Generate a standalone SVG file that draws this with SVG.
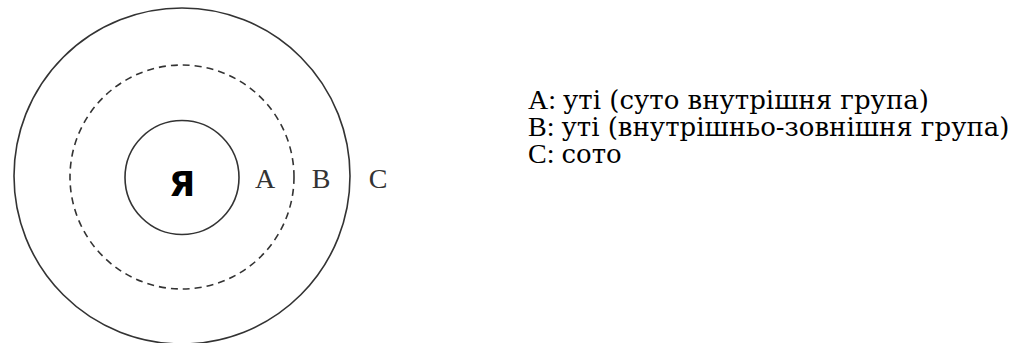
<svg xmlns="http://www.w3.org/2000/svg" width="1027" height="343" viewBox="0 0 1027 343">
<style>
.ring{fill:none;stroke:#333;stroke-width:1.6}
.dash{stroke-dasharray:7 5}
.lbl{font-family:"Liberation Serif","Times New Roman",serif;font-size:28px;fill:#333}
.txt{font-family:"DejaVu Serif",serif;font-size:26px;fill:#000}
.lat{font-family:"Liberation Serif","Times New Roman",serif;font-size:28px}
.me{font-family:"DejaVu Sans","Liberation Sans",sans-serif;font-weight:bold;font-size:34px;fill:#000}
</style>
<rect width="1027" height="343" fill="#fff"/>
<g id="outer"><circle class="ring" cx="182" cy="176" r="168"/></g>
<g id="middle"><circle class="ring dash" cx="182" cy="177" r="112"/></g>
<g id="inner"><circle class="ring" cx="182" cy="177.5" r="57"/></g>
<g id="labels">
<text class="me" x="182" y="196" text-anchor="middle">Я</text>
<text class="lbl" x="265" y="188" text-anchor="middle">A</text>
<text class="lbl" x="321" y="188" text-anchor="middle">B</text>
<text class="lbl" x="378" y="188" text-anchor="middle">C</text>
</g>
<g id="legend">
<text class="txt" x="528" y="109"><tspan class="lat">A: </tspan>уті (суто внутрішня група)</text>
<text class="txt" x="528" y="136"><tspan class="lat">B: </tspan>уті (внутрішньо-зовнішня група)</text>
<text class="txt" x="528" y="163"><tspan class="lat">C: </tspan>сото</text>
</g>
</svg>
